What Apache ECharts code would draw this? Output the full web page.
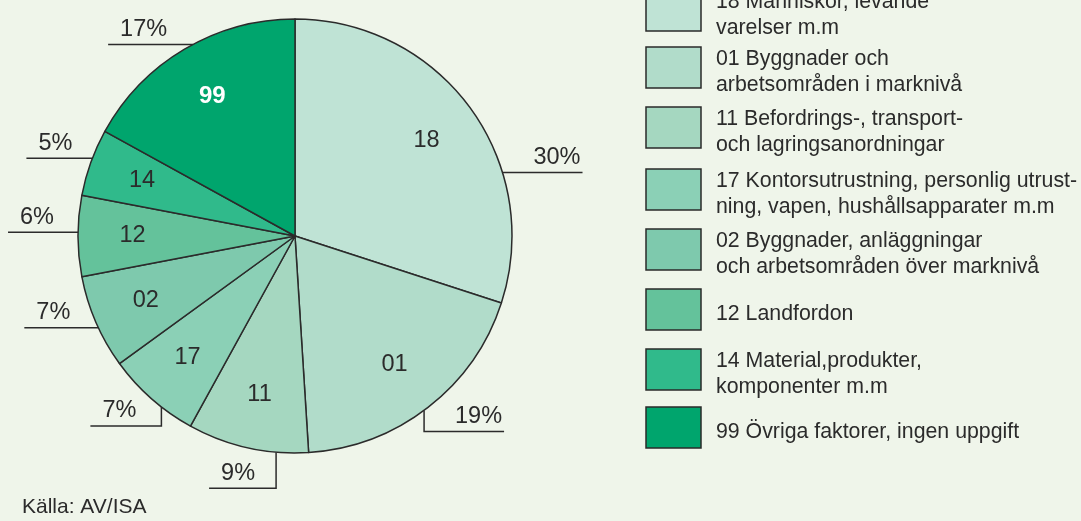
<!DOCTYPE html>
<html>
<head>
<meta charset="utf-8">
<script src="https://cdn.jsdelivr.net/npm/echarts@6/dist/echarts.min.js"></script>
<style>
  html, body { margin: 0; padding: 0; background: #eff5ea; }
  #chart { width: 1081px; height: 521px; }
</style>
</head>
<body>
<div id="chart"></div>
<script>
// slice codes, legend texts and shares (%), clockwise from 12 o'clock
const codes = ['18', '01', '11', '17', '02', '12', '14', '99'];
const legendNames = [
  '18 Människor, levande\nvarelser m.m',
  '01 Byggnader och\narbetsområden i marknivå',
  '11 Befordrings-, transport-\noch lagringsanordningar',
  '17 Kontorsutrustning, personlig utrust-\nning, vapen, hushållsapparater m.m',
  '02 Byggnader, anläggningar\noch arbetsområden över marknivå',
  '12 Landfordon',
  '14 Material,produkter,\nkomponenter m.m',
  '99 Övriga faktorer, ingen uppgift'
];
const shares = [30, 19, 9, 7, 7, 6, 5, 17];
const source = 'Källa: AV/ISA';

const colors = ['#bfe3d5', '#b1dcca', '#a5d7c0', '#8bd0b6', '#7ec9ad', '#64c29b', '#30ba8b', '#00a56d'];
// leader line: start angle on rim (deg from top), vertical drop, horizontal run
const leaders = [
  [73, 0, 80], [143.5, 21, 80], [185, 36, 67], [218, 19, 71],
  [245, 0, 74], [271, 0, 70], [291, 0, 66], [332, 0, 85]
];
// legend box top edges (layout)
const legendTops = [-10, 47, 107, 169, 229, 289, 349, 407];

const cx = 295, cy = 236, R = 217;
const txt = '#2b2b2b';
const font = '"Liberation Sans", Arial, sans-serif';

let chart = echarts.init(document.getElementById('chart'));

let pieData = legendNames.map(function (n, i) {
  return { name: n, value: shares[i], itemStyle: { color: colors[i] } };
});

// legend boxes + texts
let legendItems = [];
legendNames.forEach(function (n, i) {
  let top = legendTops[i];
  legendItems.push({
    type: 'rect',
    shape: { x: 646, y: top, width: 55, height: 41 },
    style: { fill: colors[i], stroke: '#2a2a2a', lineWidth: 1.5 },
    silent: true
  });
  legendItems.push({
    type: 'text',
    x: 716,
    y: top + 25,
    style: {
      text: n,
      fill: txt,
      font: '21.3px ' + font,
      lineHeight: 26,
      verticalAlign: 'middle'
    },
    silent: true
  });
});

chart.setOption({
  backgroundColor: '#eff5ea',
  animation: false,
  textStyle: { fontFamily: font },
  title: {
    text: source,
    left: 22,
    top: 497,
    padding: 0,
    textStyle: { fontSize: 21, fontWeight: 'normal', color: txt }
  },
  graphic: legendItems,
  series: [
    {
      type: 'pie',
      center: [cx, cy],
      radius: [0, R],
      startAngle: 90,
      clockwise: true,
      avoidLabelOverlap: false,
      emphasis: { disabled: true },
      itemStyle: { borderColor: '#2b2b2b', borderWidth: 1.5 },
      label: {
        show: true,
        position: 'outside',
        formatter: '{c}%',
        fontSize: 23.5,
        color: txt
      },
      labelLine: {
        show: true,
        length: 0,
        length2: 0,
        lineStyle: { color: '#2b2b2b', width: 1.5 }
      },
      labelLayout: function (p) {
        let l = leaders[p.dataIndex];
        let a = l[0] * Math.PI / 180;
        let sx = cx + R * Math.sin(a), sy = cy - R * Math.cos(a);
        let right = l[0] < 180;
        let ey = sy + l[1];
        let ex = right ? sx + l[2] : sx - l[2];
        return {
          labelLinePoints: [[sx, sy], [sx, ey], [ex, ey]],
          x: right ? ex - 2 : ex + 12,
          y: ey - 3,
          align: right ? 'right' : 'left',
          verticalAlign: 'bottom'
        };
      },
      data: pieData
    },
    {
      // inner code labels only
      type: 'pie',
      center: [cx, cy],
      radius: [R * 0.47, R],
      startAngle: 90,
      silent: true,
      emphasis: { disabled: true },
      itemStyle: { color: 'rgba(0,0,0,0)', borderWidth: 0 },
      label: {
        show: true,
        position: 'inside',
        fontSize: 23.5,
        color: txt,
        formatter: function (p) { return codes[p.dataIndex]; }
      },
      labelLine: { show: false },
      data: shares.map(function (v, i) {
        let d = { name: 'c' + codes[i], value: v };
        if (codes[i] === '99') d.label = { color: '#ffffff', fontWeight: 'bold', fontSize: 24 };
        return d;
      })
    }
  ]
});
</script>
</body>
</html>
